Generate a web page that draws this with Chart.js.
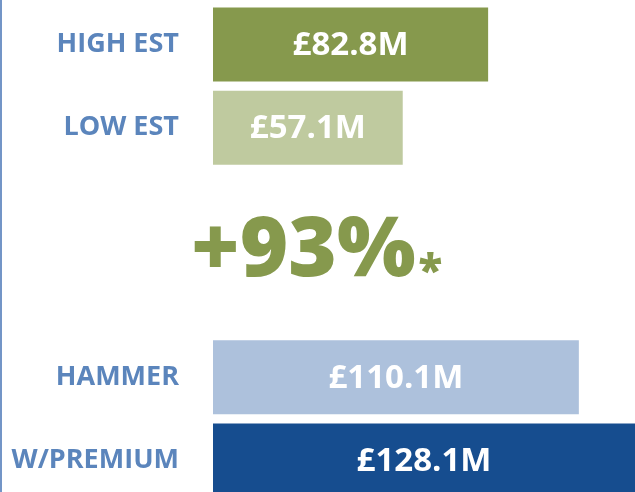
<!DOCTYPE html>
<html>
<head>
<meta charset="utf-8">
<script src="https://cdn.jsdelivr.net/npm/chart.js@4.4.0/dist/chart.umd.min.js"></script>
<style>
  html, body { margin: 0; padding: 0; background: #fff; overflow: hidden; height: 492px; }
  #wrap { position: relative; width: 633px; height: 505px; border-left: 2px solid #7395c7; }
</style>
</head>
<body>
<div id="wrap"><canvas id="grafica"></canvas></div>
<script>
// Datos
const categorias = ['HIGH EST', 'LOW EST', '', '', 'HAMMER', 'W/PREMIUM'];
const valores = [82.8, 57.1, null, null, 110.1, 128.1];
const etiquetasValor = ['£82.8M', '£57.1M', '', '', '£110.1M', '£128.1M'];
const colores = ['#86994d', '#bfca9f', '#ffffff', '#ffffff', '#adc1dc', '#164d8f'];
const textoCambio = '+93%';
const textoNota = '*';

// Etiquetas blancas dentro de las barras + texto central
const pluginEtiquetas = {
  id: 'etiquetas',
  afterDatasetsDraw(chart) {
    const ctx = chart.ctx;
    const area = chart.chartArea;
    const meta = chart.getDatasetMeta(0);
    ctx.save();
    ctx.fillStyle = '#ffffff';
    ctx.font = 'bold 33px "Open Sans"';
    ctx.textAlign = 'center';
    ctx.textBaseline = 'middle';
    meta.data.forEach((barra, i) => {
      if (valores[i] == null) return;
      const fin = Math.min(barra.x, area.right);
      ctx.fillText(etiquetasValor[i], (barra.base + fin) / 2, barra.y + 1);
    });
    // +93%*
    const yEscala = chart.scales.y;
    const yMedio = (yEscala.getPixelForValue(2) + yEscala.getPixelForValue(3)) / 2;
    ctx.fillStyle = '#86994d';
    ctx.textAlign = 'left';
    ctx.textBaseline = 'alphabetic';
    ctx.font = '800 83px "Open Sans"';
    ctx.fillText(textoCambio, 189, yMedio + 23);
    const ancho = ctx.measureText(textoCambio).width;
    ctx.font = '800 44px "Open Sans"';
    ctx.fillText(textoNota, 189 + ancho + 3, yMedio + 33);
    ctx.restore();
  }
};

const ctx = document.getElementById('grafica').getContext('2d');
new Chart(ctx, {
  type: 'bar',
  data: {
    labels: categorias,
    datasets: [{
      data: valores,
      backgroundColor: colores,
      borderWidth: 0,
      categoryPercentage: 1,
      barPercentage: 0.89
    }]
  },
  options: {
    indexAxis: 'y',
    responsive: true,
    maintainAspectRatio: false,
    animation: false,
    layout: { padding: { top: 3, bottom: 3, left: 0, right: 0 } },
    plugins: {
      legend: { display: false },
      tooltip: { enabled: false }
    },
    scales: {
      x: {
        display: false,
        min: 0,
        max: 127
      },
      y: {
        afterFit(escala) {
          escala.width = 211;
          escala.paddingTop = 0;
          escala.paddingBottom = 0;
        },
        grid: { display: false, drawTicks: false },
        border: { display: false },
        ticks: {
          padding: 34,
          color: '#5b85bc',
          font: { family: '"Open Sans"', weight: 'bold', size: 27 }
        }
      }
    }
  },
  plugins: [pluginEtiquetas]
});
</script>
</body>
</html>
